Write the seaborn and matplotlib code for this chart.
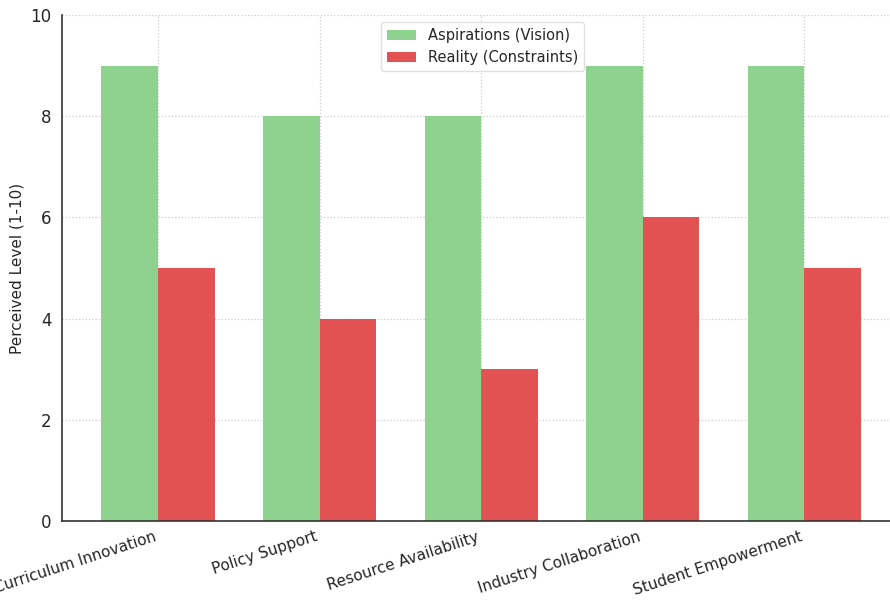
import matplotlib
matplotlib.use("Agg")
import matplotlib.pyplot as plt
import seaborn as sns
import pandas as pd

categories = ["Curriculum Innovation", "Policy Support", "Resource Availability",
              "Industry Collaboration", "Student Empowerment"]
aspirations = [9, 8, 8, 9, 9]
reality = [5, 4, 3, 6, 5]
series_names = ["Aspirations (Vision)", "Reality (Constraints)"]
y_ticks = [0, 2, 4, 6, 8, 10]

df = pd.DataFrame({
    "Category": categories * 2,
    "Value": aspirations + reality,
    "Series": [series_names[0]] * len(categories) + [series_names[1]] * len(categories),
})

sns.set_style("white")
plt.rcParams['font.family'] = ['DejaVu Sans']

fig = plt.figure(figsize=(8.9, 6.0), dpi=100)
ax = fig.add_axes([62 / 890, 79 / 600, 1 - 62 / 890, 506 / 600])

sns.barplot(data=df, x="Category", y="Value", hue="Series", ax=ax,
            palette=["#8fd18f", "#e25252"], width=0.7, linewidth=0,
            saturation=1, zorder=2)

ax.set_xlim(-0.594, 4.53)
ax.set_ylim(0, 10)
ax.set_yticks(y_ticks)
ax.grid(True, linestyle=":", color="#cccccc", linewidth=0.9, zorder=0)
ax.set_axisbelow(True)
for s in ["top", "right"]:
    ax.spines[s].set_visible(False)
for s in ["left", "bottom"]:
    ax.spines[s].set_color("#333333")
    ax.spines[s].set_linewidth(1.2)

ax.tick_params(axis="both", labelsize=12, length=4, color="#333333", direction="out")
ax.tick_params(axis="x", length=0, pad=6)
ax.set_xticks(range(len(categories)))
ax.set_xticklabels(categories, rotation=18, ha="right", fontsize=11)
ax.set_xlabel("")
ax.set_ylabel("Perceived Level (1-10)", fontsize=11)
ax.yaxis.set_label_coords(-0.045, 0.5)

leg = ax.legend(loc="upper center", bbox_to_anchor=(0.508, 1.0), fontsize=10.5,
                frameon=True, framealpha=0.9, edgecolor="#dddddd", fancybox=True)
leg.set_title(None)

fig.savefig("out.png", dpi=100)
